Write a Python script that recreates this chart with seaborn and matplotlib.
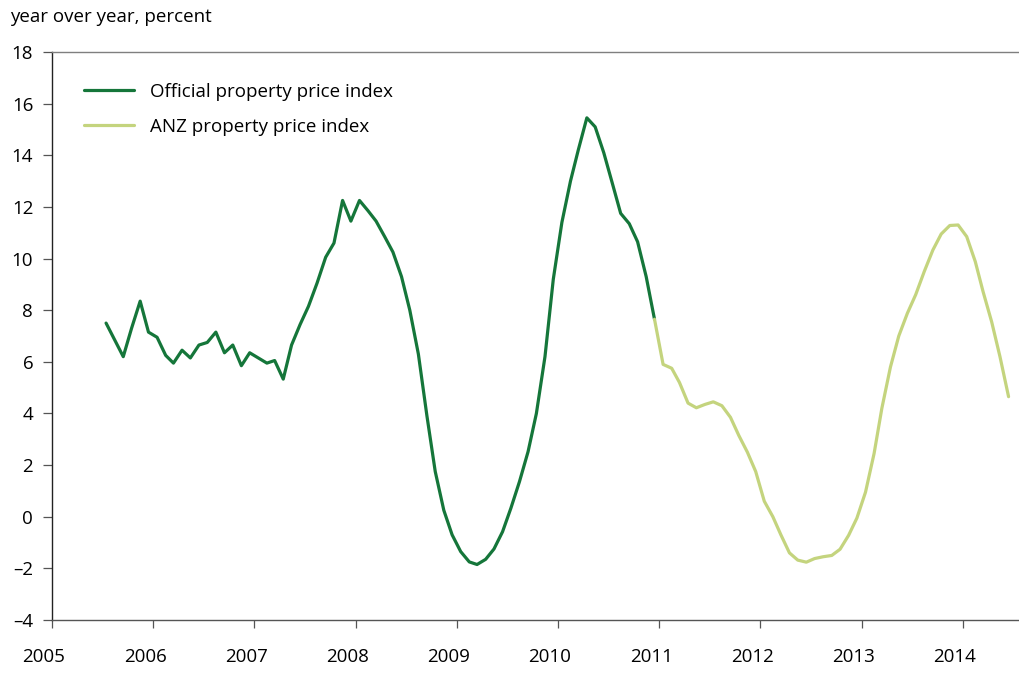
import matplotlib
matplotlib.use("Agg")
import matplotlib.pyplot as plt
import matplotlib.transforms as mtransforms
from matplotlib.ticker import FuncFormatter
import seaborn as sns
import pandas as pd

# monthly yoy growth
official_start = "2005-07-01"
official_values = [
    7.5, 6.85, 6.2, 7.3, 8.35, 7.15,
    6.95, 6.25, 5.95, 6.45, 6.15, 6.65, 6.75, 7.15, 6.35, 6.65, 5.85, 6.35,
    6.15, 5.95, 6.05, 5.33, 6.65, 7.45, 8.15, 9.05, 10.05, 10.6, 12.25, 11.45,
    12.25, 11.85, 11.45, 10.85, 10.25, 9.3, 8.0, 6.3, 3.9, 1.75, 0.25, -0.7,
    -1.35, -1.75, -1.85, -1.65, -1.25, -0.58, 0.33, 1.36, 2.52, 4.0, 6.2, 9.2,
    11.4, 13.0, 14.2, 15.45, 15.1, 14.1, 12.95, 11.75, 11.35, 10.65, 9.3, 7.65,
]
anz_start = "2010-12-01"
anz_values = [
    7.65,
    5.9, 5.75, 5.2, 4.4, 4.22, 4.35, 4.45, 4.3, 3.85, 3.15, 2.5, 1.75,
    0.6, 0.0, -0.7, -1.4, -1.68, -1.76, -1.62, -1.55, -1.5, -1.26, -0.72, -0.05,
    0.95, 2.45, 4.2, 5.8, 7.0, 7.88, 8.6, 9.5, 10.33, 10.95, 11.28, 11.3,
    10.85, 9.88, 8.72, 7.55, 6.2, 4.65,
]
series_names = ["Official property price index", "ANZ property price index"]
colors = ["#15763a", "#c4d47e"]
year_ticks = list(range(2005, 2015))
y_ticks = list(range(-4, 19, 2))


def to_years(start, n):
    # mid-month positions as decimal years
    d = pd.date_range(start, periods=n, freq="MS") + pd.Timedelta(days=14)
    days = pd.Series(d.is_leap_year).map({True: 366, False: 365}).values
    return d.year + (d.dayofyear - 1) / days


df = pd.concat([
    pd.DataFrame({"date": to_years(official_start, len(official_values)),
                  "value": official_values, "series": series_names[0]}),
    pd.DataFrame({"date": to_years(anz_start, len(anz_values)),
                  "value": anz_values, "series": series_names[1]}),
])

sns.set_style("ticks")
plt.rcParams["font.family"] = ["Open Sans", "DejaVu Sans"]

fig = plt.figure(figsize=(10.2, 6.73), dpi=100)
ax = fig.add_axes([52 / 1020, 1 - 620 / 673, 968 / 1020, 568 / 673])

sns.lineplot(data=df, x="date", y="value", hue="series", palette=colors,
             linewidth=2.3, sort=False, ax=ax)

ax.set_xlim(2005, 2014.565)
ax.set_ylim(-4, 18)
ax.set_xticks(year_ticks)
ax.set_yticks(y_ticks)
ax.yaxis.set_major_formatter(FuncFormatter(lambda v, p: f"{v:.0f}".replace("-", "\u2013")))
ax.set_xlabel("")
ax.set_ylabel("")

for side in ["top", "bottom", "left"]:
    ax.spines[side].set_linewidth(1.0)
ax.spines["top"].set_color("#7f7f7f")
ax.spines["bottom"].set_color("#555555")
ax.spines["left"].set_color("#222222")
ax.spines["right"].set_visible(False)

ax.tick_params(axis="y", direction="out", length=6.5, width=0.9, color="#555555",
               labelsize=13.5, pad=7, labelcolor="#000000")
ax.tick_params(axis="x", direction="out", length=6, width=0.9, color="#555555",
               labelsize=13.5, pad=14, labelcolor="#000000")
shift = mtransforms.ScaledTranslation(-8 / 100, 0, fig.dpi_scale_trans)
for lab in ax.get_xticklabels():
    lab.set_transform(lab.get_transform() + shift)

sns.move_legend(ax, "upper left", bbox_to_anchor=(0.033, 0.946), frameon=False,
                title=None, fontsize=13.5, handlelength=2.65, handletextpad=0.85,
                labelspacing=0.92, borderpad=0, borderaxespad=0)
for t in ax.get_legend().get_texts():
    t.set_color("#000000")

fig.text(10 / 1020, 1 - 17 / 673, "year over year, percent", fontsize=13.5,
         va="center", ha="left", color="#000000")

fig.savefig("out.png", dpi=100)
